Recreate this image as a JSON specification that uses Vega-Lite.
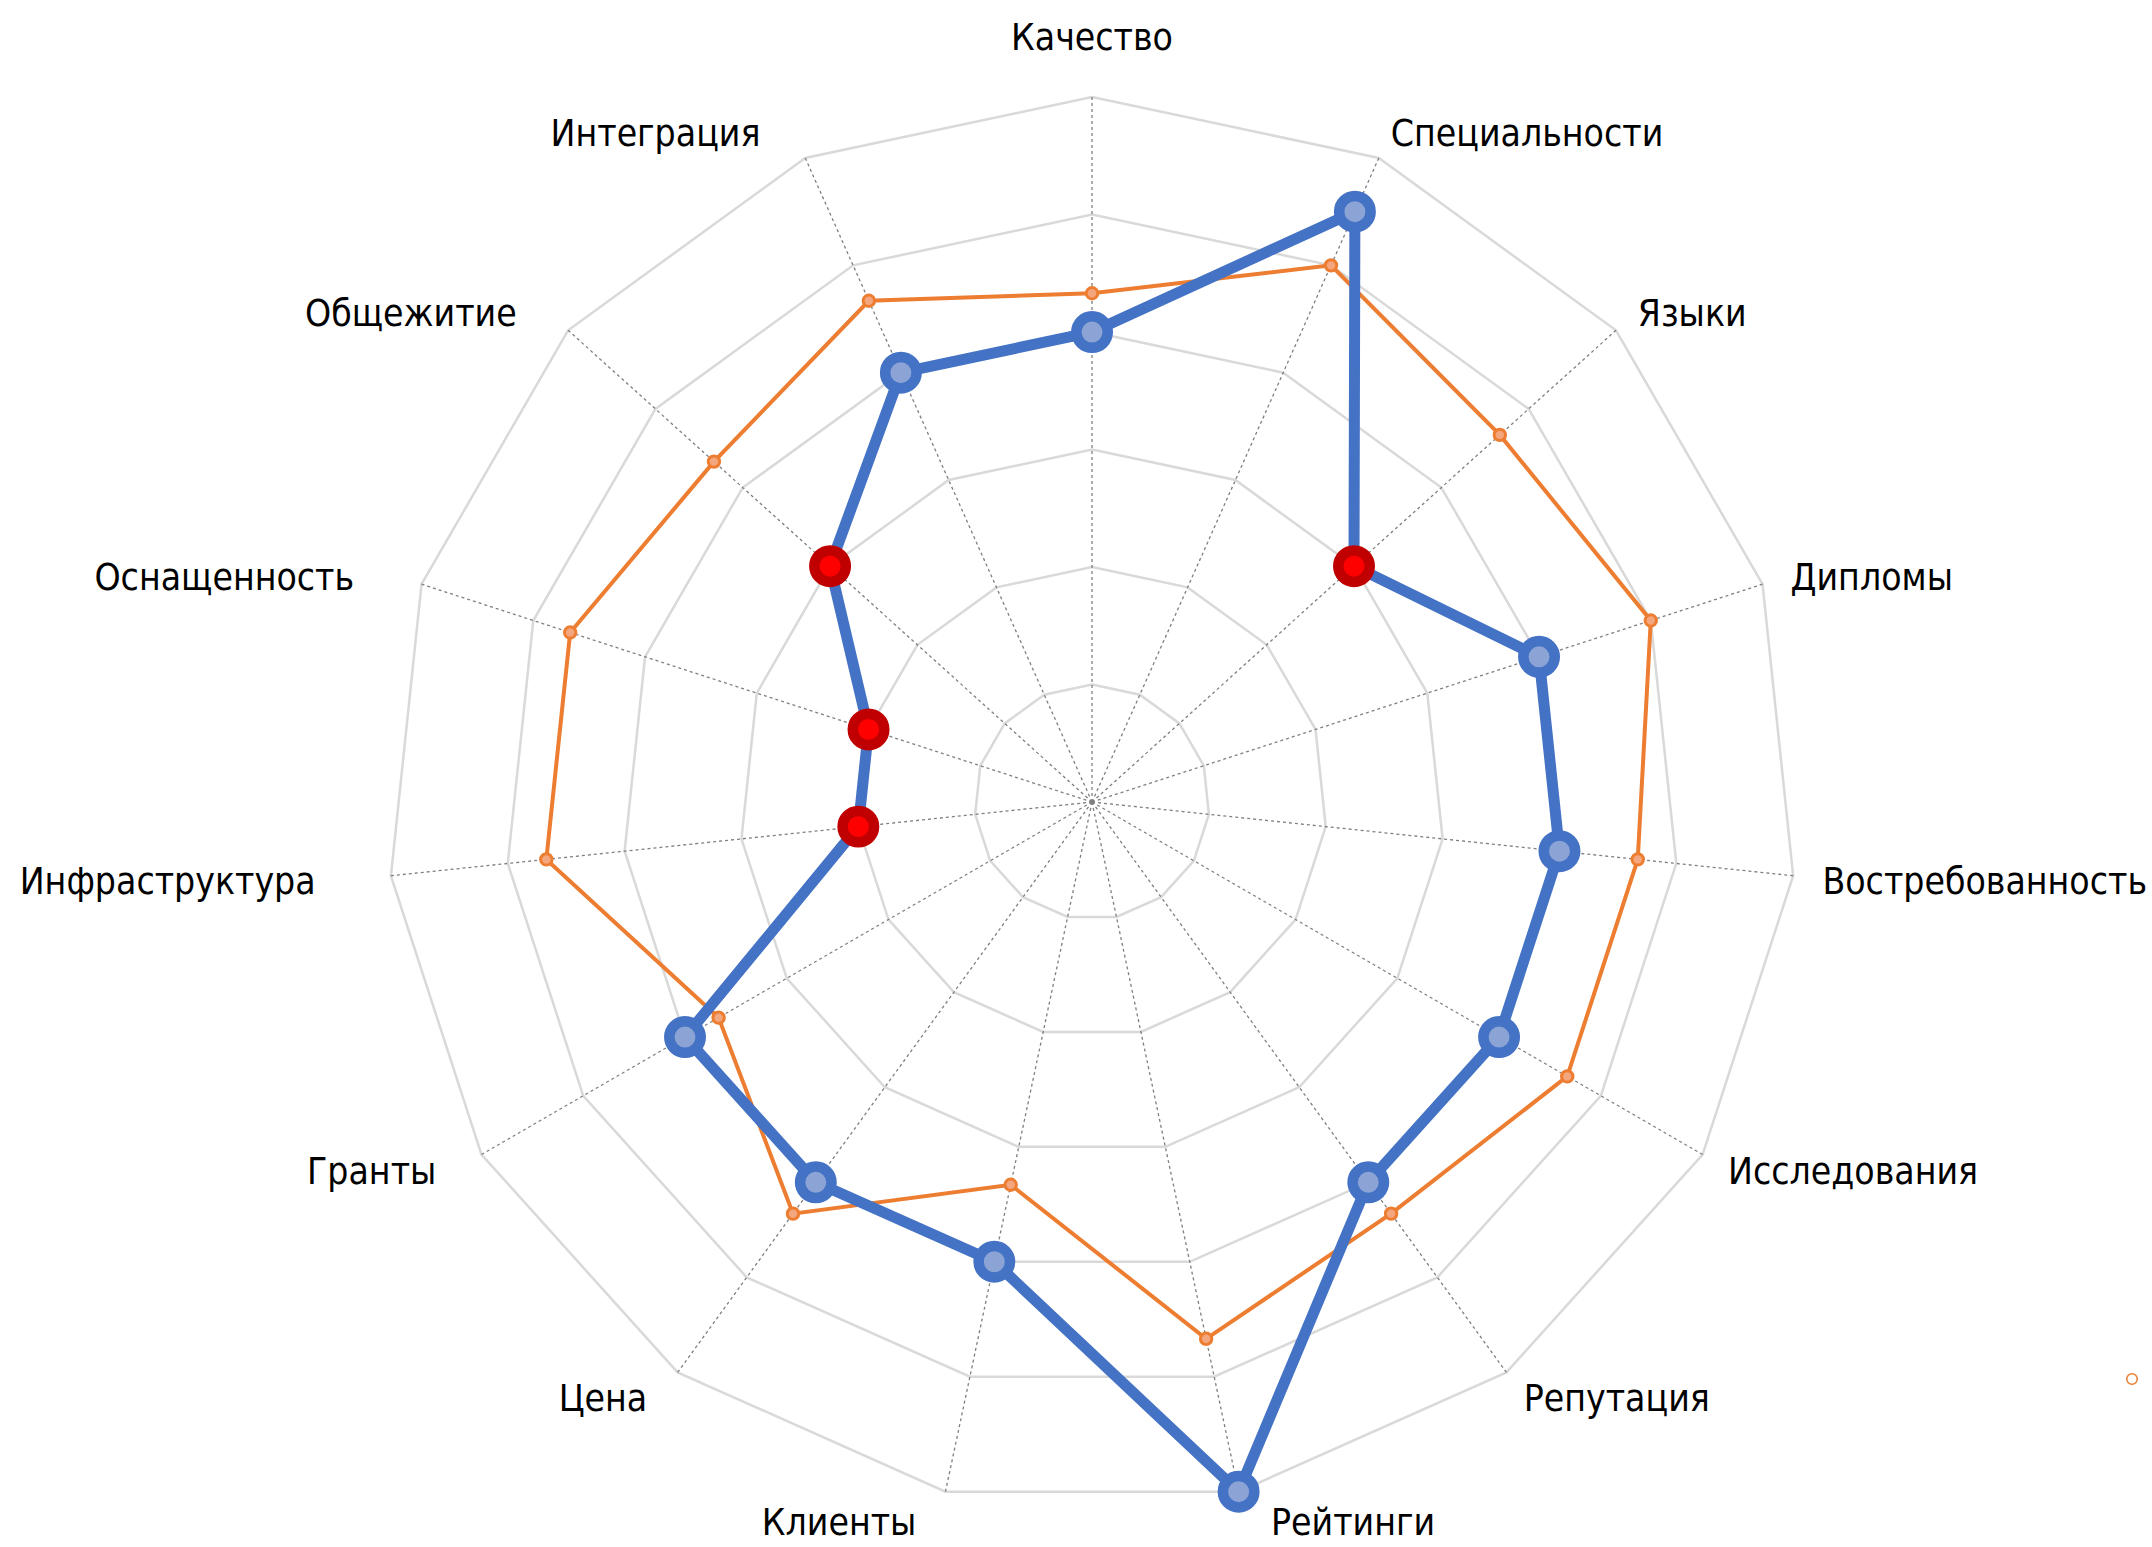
{
  "$schema": "https://vega.github.io/schema/vega-lite/v6.json",
  "width": 2152,
  "height": 1547,
  "autosize": {"type": "none"},
  "padding": 0,
  "background": "white",
  "config": {"view": {"stroke": null}},
  "datasets": {
    "axes": [
      {"i": 0, "axis": "Качество", "a": 4, "b": 4.33},
      {"i": 1, "axis": "Специальности", "a": 5.5, "b": 5},
      {"i": 2, "axis": "Языки", "a": 3, "b": 4.67},
      {"i": 3, "axis": "Дипломы", "a": 4, "b": 5},
      {"i": 4, "axis": "Востребованность", "a": 4, "b": 4.67},
      {"i": 5, "axis": "Исследования", "a": 4, "b": 4.67},
      {"i": 6, "axis": "Репутация", "a": 4, "b": 4.33},
      {"i": 7, "axis": "Рейтинги", "a": 6, "b": 4.67},
      {"i": 8, "axis": "Клиенты", "a": 4, "b": 3.33},
      {"i": 9, "axis": "Цена", "a": 4, "b": 4.33},
      {"i": 10, "axis": "Гранты", "a": 4, "b": 3.67},
      {"i": 11, "axis": "Инфраструктура", "a": 2, "b": 4.67},
      {"i": 12, "axis": "Оснащенность", "a": 2, "b": 4.67},
      {"i": 13, "axis": "Общежитие", "a": 3, "b": 4.33},
      {"i": 14, "axis": "Интеграция", "a": 4, "b": 4.67}
    ]
  },
  "data": {"name": "axes"},
  "transform": [
    {"calculate": "datum.i * 2 * PI / 15", "as": "theta"}
  ],
  "encoding": {
    "x": {"field": "x", "type": "quantitative", "scale": {"domain": [-9.294, 9.021], "nice": false, "zero": false}, "axis": null},
    "y": {"field": "y", "type": "quantitative", "scale": {"domain": [-6.34, 6.826], "nice": false, "zero": false}, "axis": null}
  },
  "layer": [
    {
      "transform": [
        {"calculate": "[1,2,3,4,5,6]", "as": "ringlist"},
        {"flatten": ["ringlist"], "as": ["ring"]},
        {"calculate": "datum.ring * sin(datum.theta)", "as": "x"},
        {"calculate": "datum.ring * cos(datum.theta)", "as": "y"}
      ],
      "mark": {"type": "line", "interpolate": "linear-closed", "stroke": "#D9D9D9", "strokeWidth": 2.5},
      "encoding": {
        "detail": {"field": "ring", "type": "nominal"},
        "order": {"field": "i", "type": "quantitative"}
      }
    },
    {
      "transform": [
        {"calculate": "0", "as": "x"},
        {"calculate": "0", "as": "y"},
        {"calculate": "6 * sin(datum.theta)", "as": "x2"},
        {"calculate": "6 * cos(datum.theta)", "as": "y2"}
      ],
      "mark": {"type": "rule", "stroke": "#7F7F7F", "strokeWidth": 1.3, "strokeDash": [3, 3]},
      "encoding": {
        "x2": {"field": "x2"},
        "y2": {"field": "y2"}
      }
    },
    {
      "transform": [
        {"calculate": "datum.b * sin(datum.theta)", "as": "x"},
        {"calculate": "datum.b * cos(datum.theta)", "as": "y"}
      ],
      "mark": {"type": "line", "interpolate": "linear-closed", "stroke": "#ED7D31", "strokeWidth": 4},
      "encoding": {"order": {"field": "i", "type": "quantitative"}}
    },
    {
      "transform": [
        {"calculate": "datum.b * sin(datum.theta)", "as": "x"},
        {"calculate": "datum.b * cos(datum.theta)", "as": "y"}
      ],
      "mark": {"type": "point", "filled": true, "fill": "#F4A67E", "stroke": "#ED7D31", "strokeWidth": 3, "size": 130, "opacity": 1}
    },
    {
      "transform": [
        {"filter": "datum.i == 0"},
        {"calculate": "datum.b * sin(datum.theta)", "as": "x"},
        {"calculate": "datum.b * cos(datum.theta)", "as": "y"}
      ],
      "mark": {"type": "point", "filled": false, "stroke": "#ED7D31", "strokeWidth": 1.5, "size": 110, "opacity": 0},
      "encoding": {
        "shape": {"datum": " ", "type": "nominal", "scale": {"range": ["circle"]},
          "legend": {"orient": "none", "legendX": 2126, "legendY": 1373, "title": null, "labelExpr": "''", "symbolType": "circle", "symbolStrokeColor": "#ED7D31", "symbolFillColor": "transparent", "symbolSize": 110, "symbolStrokeWidth": 1.5, "symbolOpacity": 1}}
      }
    },
    {
      "transform": [
        {"calculate": "datum.a * sin(datum.theta)", "as": "x"},
        {"calculate": "datum.a * cos(datum.theta)", "as": "y"}
      ],
      "mark": {"type": "line", "interpolate": "linear-closed", "stroke": "#4472C4", "strokeWidth": 11, "strokeJoin": "round"},
      "encoding": {"order": {"field": "i", "type": "quantitative"}}
    },
    {
      "transform": [
        {"calculate": "datum.a * sin(datum.theta)", "as": "x"},
        {"calculate": "datum.a * cos(datum.theta)", "as": "y"}
      ],
      "mark": {"type": "point", "filled": true, "size": 990, "strokeWidth": 10.5, "opacity": 1},
      "encoding": {
        "fill": {"condition": {"test": "datum.a <= 3", "value": "#FF0000"}, "value": "#8BA3D5"},
        "stroke": {"condition": {"test": "datum.a <= 3", "value": "#C00000"}, "value": "#4472C4"}
      }
    },
    {
      "transform": [
        {"filter": "datum.i == 0"},
        {"calculate": "0", "as": "x"},
        {"calculate": "6.49", "as": "y"}
      ],
      "mark": {"type": "text", "align": "center", "baseline": "middle", "font": "DejaVu Sans Condensed, Liberation Sans Narrow, sans-serif", "fontSize": 37, "fill": "#000000"},
      "encoding": {"text": {"field": "axis"}}
    },
    {
      "transform": [
        {"filter": "datum.i >= 1 && datum.i <= 7"},
        {"calculate": "6.25 * sin(datum.theta) + (datum.i == 7 ? 0.028 * length(datum.axis) : 0)", "as": "x"},
        {"calculate": "6.25 * cos(datum.theta) - 0.035", "as": "y"}
      ],
      "mark": {"type": "text", "align": "left", "baseline": "middle", "font": "DejaVu Sans Condensed, Liberation Sans Narrow, sans-serif", "fontSize": 37, "fill": "#000000"},
      "encoding": {"text": {"field": "axis"}}
    },
    {
      "transform": [
        {"filter": "datum.i >= 8"},
        {"calculate": "6.25 * sin(datum.theta) - 0.028 * length(datum.axis)", "as": "x"},
        {"calculate": "6.25 * cos(datum.theta) - 0.035", "as": "y"}
      ],
      "mark": {"type": "text", "align": "right", "baseline": "middle", "font": "DejaVu Sans Condensed, Liberation Sans Narrow, sans-serif", "fontSize": 37, "fill": "#000000"},
      "encoding": {"text": {"field": "axis"}}
    }
  ]
}
